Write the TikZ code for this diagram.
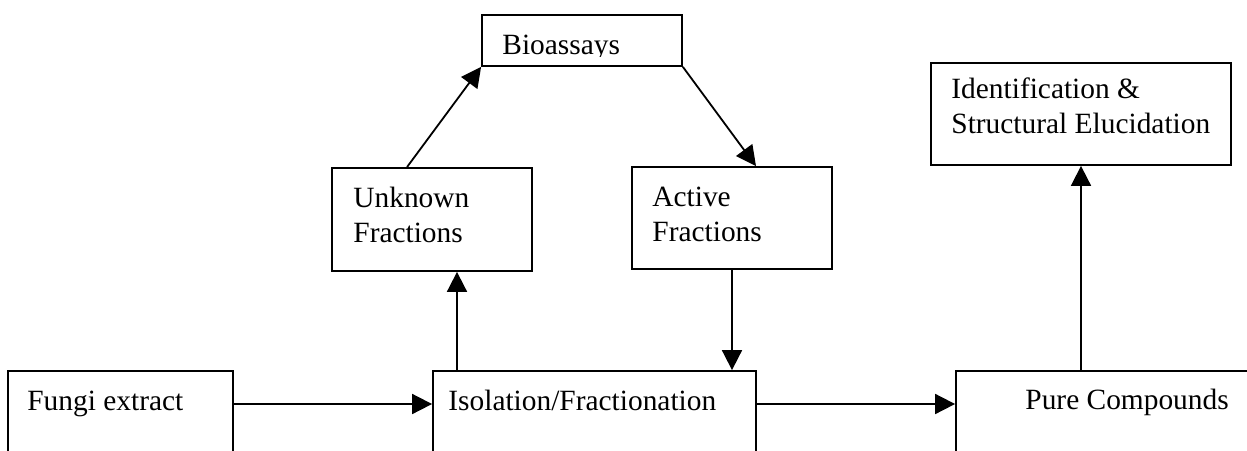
\documentclass[tikz,border=0pt]{standalone}
\usepackage{fontspec}
\setmainfont{Liberation Serif}
\usetikzlibrary{arrows.meta,fit}
\begin{document}
\begin{tikzpicture}[x=0.5pt,y=-0.5pt,
  box/.style={draw=black,line width=0.9pt,inner sep=0pt,rectangle},
  lbl/.style={anchor=base west,inner sep=0pt,align=left,
    font=\fontsize{14.7pt}{17.5pt}\selectfont},
  conn/.style={line width=0.9pt,-{Triangle[length=10pt,width=10pt]}}]
\clip (0,0) rectangle (1247,450);
% boxes
\node[box,fit={(8,371) (233,520)}] (fungi) {};
\node[box,fit={(433,371) (756,520)}] (iso) {};
\node[box,fit={(956,371) (1300,520)}] (pure) {};
\node[box,fit={(332,168) (532,271)}] (unk) {};
\node[box,fit={(632,167) (832,269)}] (act) {};
\node[box,fit={(482,15) (682,66)}] (bio) {};
\node[box,fit={(931,63) (1231,165)}] (ident) {};
% texts
\node[lbl] (tfungi) at (27,410) {Fungi extract};
\node[lbl] (tiso) at (448,410) {Isolation/Fractionation};
\node[lbl] (tpure) at (1025,409) {Pure Compounds};
\node[lbl] (tunk) at (353,242) {Unknown\\Fractions};
\node[lbl] (tact) at (652,241) {Active\\Fractions};
\begin{scope}
\clip (482,15) rectangle (682,56);
\node[lbl] (tbio) at (502,54) {Bioassays};
\end{scope}
\node[lbl] (tident) at (951,133) {Identification \&\\Structural Elucidation};
% connectors
\draw[conn] (fungi.east |- 0,404) -- (iso.west |- 0,404);
\draw[conn] (iso.east |- 0,404) -- (pure.west |- 0,404);
\draw[conn] (iso.north -| 457,0) -- (unk.south -| 457,0);
\draw[conn] (act.south -| 732,0) -- (iso.north -| 732,0);
\draw[conn] (unk.north -| 407,0) -- (bio.south west);
\draw[conn] (bio.south east) -- (act.north -| 756,0);
\draw[conn] (pure.north -| 1081,0) -- (ident.south -| 1081,0);
\end{tikzpicture}
\end{document}
